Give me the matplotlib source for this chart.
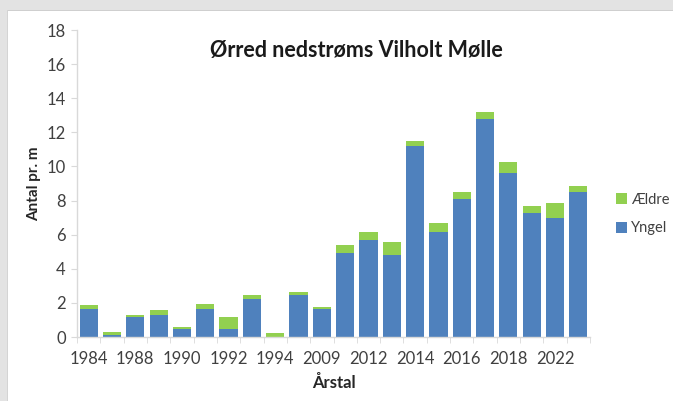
import matplotlib
matplotlib.use("Agg")
import matplotlib.pyplot as plt
from matplotlib.patches import Rectangle
import numpy as np

# Survey years (every other one is labelled on the axis)
years = ["1984", "1986", "1988", "1989", "1990", "1991", "1992", "1993",
         "1994", "2005", "2009", "2011", "2012", "2013", "2014", "2015",
         "2016", "2017", "2018", "2020", "2022", "2023"]

# Density of trout per metre of stream
yngel = [1.65, 0.14, 1.15, 1.28, 0.47, 1.63, 0.46, 2.25, 0.02, 2.45, 1.66,
         4.90, 5.70, 4.80, 11.2, 6.15, 8.10, 12.8, 9.60, 7.27, 6.98, 8.50]
aeldre = [0.24, 0.16, 0.14, 0.32, 0.13, 0.30, 0.70, 0.23, 0.20, 0.17, 0.08,
          0.49, 0.44, 0.75, 0.30, 0.55, 0.40, 0.40, 0.64, 0.39, 0.89, 0.35]

blue = "#4f81bd"
green = "#92d050"
axis_grey = "#d9d9d9"
text_col = "#404040"

plt.rcParams["font.family"] = ["Lato", "DejaVu Sans"]

fig = plt.figure(figsize=(6.73, 4.01), dpi=100)
fig.patch.set_facecolor("white")

# light grey frame strips along the top and left edge
fig.patches.append(Rectangle((0, 1 - 10 / 401), 1, 10 / 401, transform=fig.transFigure,
                             facecolor="#e3e3e3", edgecolor="none", zorder=0))
fig.patches.append(Rectangle((0, 1 - 11 / 401), 1, 1.2 / 401, transform=fig.transFigure,
                             facecolor="#cfcfcf", edgecolor="none", zorder=0))
fig.patches.append(Rectangle((0, 0), 7 / 673, 1, transform=fig.transFigure,
                             facecolor="#e3e3e3", edgecolor="none", zorder=0))
fig.patches.append(Rectangle((7 / 673, 0), 1.2 / 673, 1 - 10 / 401, transform=fig.transFigure,
                             facecolor="#d4d4d4", edgecolor="none", zorder=0))

ax = fig.add_axes([77 / 673, 1 - 337 / 401, (590 - 77) / 673, (337 - 30) / 401])

x = np.arange(len(years))
w = 0.78
ax.bar(x, yngel, width=w, color=blue, label="Yngel", zorder=2)
ax.bar(x, aeldre, width=w, bottom=yngel, color=green, label="Ældre", zorder=2)

ax.set_xlim(-0.5, len(years) - 0.5)
ax.set_ylim(0, 18)
ax.set_yticks(np.arange(0, 19, 2))

ax.set_xticks(x[::2])
ax.set_xticklabels(years[::2])
ax.set_xticks(np.arange(-0.5, len(years), 1), minor=True)

for s in ["top", "right"]:
    ax.spines[s].set_visible(False)
for s in ["left", "bottom"]:
    ax.spines[s].set_color(axis_grey)
    ax.spines[s].set_linewidth(1.0)

ax.tick_params(axis="y", length=4, color=axis_grey, labelsize=12, labelcolor=text_col, pad=4)
ax.tick_params(axis="x", which="major", length=0, labelsize=12, labelcolor=text_col, pad=10)
ax.tick_params(axis="x", which="minor", length=4, color=axis_grey)

ax.set_xlabel("Årstal", fontsize=12, fontweight="bold", color="#262626", labelpad=6)
ax.set_ylabel("Antal pr. m", fontsize=11, fontweight="bold", color="#262626", labelpad=4)

fig.text(356 / 673, 1 - 50 / 401, "Ørred nedstrøms Vilholt Mølle", ha="center", va="center",
         fontsize=15.5, fontweight="bold", color="#1a1a1a")

handles, labels = ax.get_legend_handles_labels()
leg = fig.legend(handles[::-1], labels[::-1], loc="center left",
                 bbox_to_anchor=(603 / 673, 1 - 214 / 401), frameon=False,
                 fontsize=10.5, handlelength=0.75, handleheight=0.75, handletextpad=0.3,
                 labelspacing=1.0, labelcolor=text_col)

fig.savefig("out.png", dpi=100, facecolor=fig.get_facecolor())
